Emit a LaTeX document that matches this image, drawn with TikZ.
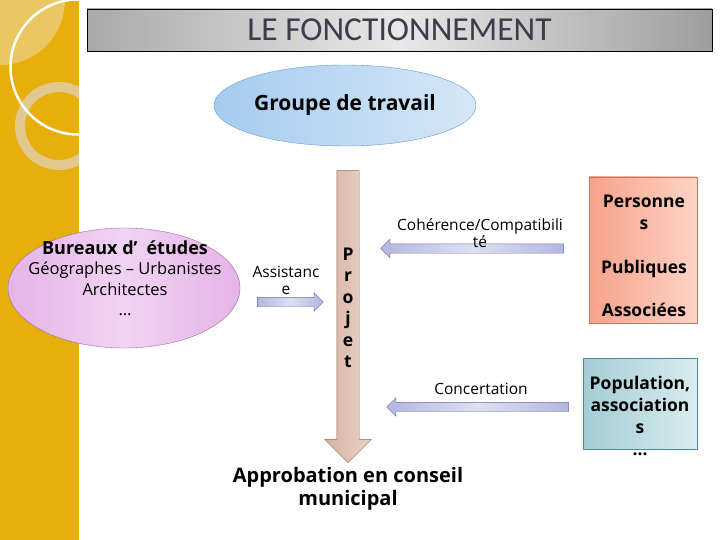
\documentclass[tikz,border=0pt]{standalone}
\usepackage{fontspec}
\setmainfont{Open Sans}
\newfontfamily\titlefont{Carlito}
\usetikzlibrary{shapes.geometric, shapes.arrows, positioning}
\definecolor{bandgold}{HTML}{E6AF0C}
\definecolor{bandlight}{HTML}{EBC764}
\definecolor{bandring}{HTML}{E1C98E}
\definecolor{titlegrey}{HTML}{A9A9A9}
\definecolor{titlelight}{HTML}{E8E8E8}
\definecolor{titletext}{HTML}{3C3C4C}
\definecolor{groupeblue}{HTML}{A6CBEE}
\definecolor{groupelight}{HTML}{D6E7F7}
\definecolor{groupeborder}{HTML}{6A9ACB}
\definecolor{bureauxpink}{HTML}{E5B3E8}
\definecolor{bureauxlight}{HTML}{F1D3F2}
\definecolor{bureauxborder}{HTML}{9C6C9E}
\definecolor{flowlav}{HTML}{B3B7E0}
\definecolor{flowlight}{HTML}{DDDFF2}
\definecolor{flowborder}{HTML}{6C70A8}
\definecolor{projetbrown}{HTML}{D6B2A2}
\definecolor{projetlight}{HTML}{EAD3C8}
\definecolor{projetborder}{HTML}{8C6A58}
\definecolor{ppasalmon}{HTML}{F7A28A}
\definecolor{ppalight}{HTML}{FDD3C5}
\definecolor{ppaborder}{HTML}{C27A5E}
\definecolor{popteal}{HTML}{A4CDD5}
\definecolor{poplight}{HTML}{D9ECEF}
\definecolor{popborder}{HTML}{4E8A9A}

\begin{document}
\begin{tikzpicture}[x=1pt, y=-1pt,
      flow/.style={single arrow, draw=flowborder, left color=flowlav,
        right color=flowlav, middle color=flowlight, inner sep=4.5pt,
        single arrow head extend=4.5pt, minimum width=18pt},
      flowtext/.style={align=center, font=\fontsize{15.5}{17}\selectfont},
      box/.style={draw, rectangle, inner sep=0pt},
      boxtext/.style={align=center, font=\fontsize{17.5}{21.7}\selectfont\bfseries}
    ]
      \fill[white] (0,0) rectangle (720,540);
      % bande de gauche
      \fill[bandgold] (0,0) rectangle (79,540);
      \begin{scope}
        \clip (0,0) rectangle (79,540);
        \fill[bandlight] (0,0) circle (65);
        \draw[bandring, line width=10pt] (59,126) circle (39);
        \draw[white, line width=2.5pt] (78,67) circle (67.5);
      \end{scope}
      % titre
      \node[draw, left color=titlegrey, right color=titlegrey!90!black!95,
        middle color=titlelight, minimum width=625pt, minimum height=42pt,
        inner sep=0pt] (titre) at (399.5,30)
        {\titlefont\fontsize{33.5}{36}\selectfont\color{titletext}LE FONCTIONNEMENT};
      % groupe de travail
      \node[ellipse, draw=groupeborder, left color=groupeblue,
        right color=groupelight, minimum width=262pt, minimum height=81pt,
        inner sep=0pt, font=\fontsize{21}{25}\selectfont\bfseries]
        (groupe) at (345,105.5) {Groupe de travail};
      % bureaux d'etudes
      \node[ellipse, draw=bureauxborder, left color=bureauxpink,
        right color=bureauxpink, middle color=bureauxlight,
        minimum width=232pt, minimum height=120pt] (bureaux) at (124,288) {};
      \node[align=center, font=\fontsize{16.5}{20.5}\selectfont] (bureauxtxt)
        at (125,278)
        {{\fontsize{18}{20.5}\selectfont\bfseries Bureaux d’\enspace études}\\Géographes -- Urbanistes\\Architectes\\…};
      % projet
      \node[single arrow, shape border rotate=270, draw=projetborder,
        left color=projetbrown, right color=projetlight, inner sep=11pt,
        single arrow head extend=12pt, minimum width=46pt,
        minimum height=292pt] (projet) at (348,311) {};
      \node[align=center, font=\fontsize{17.5}{21.5}\selectfont\bfseries]
        (projettxt) at (348,308) {P\\r\\o\\j\\e\\t};
      \node[align=center, font=\fontsize{20}{23}\selectfont\bfseries]
        (approb) at (348,489) {Approbation en conseil\\municipal};
      % partenaires
      \node[box, draw=ppaborder, left color=ppasalmon, right color=ppalight,
        minimum width=108pt, minimum height=146pt] (personnes) at (643,250) {};
      \node[boxtext] (personnestxt) at (644,256)
        {Personne\\s\\[21.7pt]Publiques\\[21.7pt]Associées};
      \node[box, draw=popborder, left color=popteal, right color=poplight,
        minimum width=114pt, minimum height=91pt] (population) at (640,403.5) {};
      \node[boxtext] (populationtxt) at (640,416)
        {Population,\\association\\s\\…};
      % fleches
      \node[flow, minimum height=66pt] (assist) at (288,302) {};
      \node[flowtext] at (286,280.5) {Assistanc\\e};
      \node[flow, shape border rotate=180, minimum height=183pt]
        (coherence) at (474.5,248.5) {};
      \node[flowtext] at (480,233.5) {Cohérence/Compatibili\\té};
      \node[flow, shape border rotate=180, minimum height=182pt]
        (concert) at (480,407) {};
      \node[flowtext] at (481,389) {Concertation};
    \end{tikzpicture}
\end{document}
